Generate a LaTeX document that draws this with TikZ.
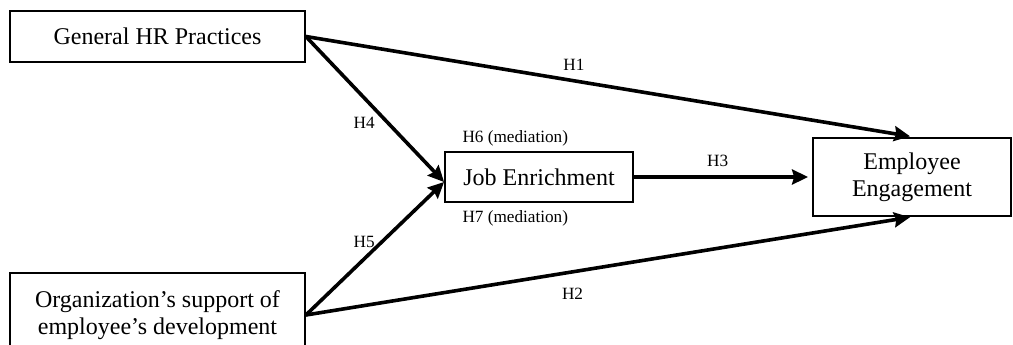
\documentclass[tikz,border=0pt]{standalone}
\usepackage{fontspec}
\setmainfont{Liberation Serif}
\usetikzlibrary{arrows.meta, positioning}

\begin{document}
\begin{tikzpicture}[
    x=0.5pt, y=-0.5pt,
    >={Stealth[length=8pt, width=7.5pt, inset=1pt]},
    box/.style={rectangle, draw, line width=0.9pt, align=center,
      font=\fontsize{12}{13.5}\selectfont, inner sep=0pt},
    arr/.style={->, line width=1.8pt},
    lbl/.style={font=\fontsize{8.6}{10}\selectfont, inner sep=1.5pt}
  ]
  \useasboundingbox (0,0) rectangle (1013,344);
  \node[box, minimum width=147.5pt, minimum height=25.5pt] (hr) at (157.5,36.5) {General HR Practices};
  \node[box, minimum width=147.5pt, minimum height=42pt] (org) at (157.5,315) {Organization’s support of\\employee’s development};
  \node[box, minimum width=94pt, minimum height=25pt] (job) at (539,177) {Job Enrichment};
  \node[box, minimum width=99pt, minimum height=39pt] (eng) at (912,177) {Employee\\Engagement};
  \node[lbl, above right=1pt and 7.5pt of job.north west] (h6) {H6 (mediation)};
  \node[lbl, below right=2pt and 7.5pt of job.south west] (h7) {H7 (mediation)};
  \draw[arr, shorten >=2.5pt] (hr.east) -- node[lbl, pos=0.44, above=2.5pt] {H1} ([xshift=1.5pt]eng.north);
  \draw[arr] (hr.east) -- node[lbl, pos=0.59, left=4pt] {H4} ([yshift=-2.5pt]job.west);
  \draw[arr] (org.east) -- node[lbl, pos=0.55, left=1.25pt] {H5} ([yshift=-2.5pt]job.west);
  \draw[arr, shorten >=2pt] (job.east) -- node[lbl, pos=0.47, above=3pt] {H3} (eng.west);
  \draw[arr, shorten >=1pt] (org.east) -- node[lbl, pos=0.44, below=5.5pt] {H2} (eng.south);
\end{tikzpicture}
\end{document}
